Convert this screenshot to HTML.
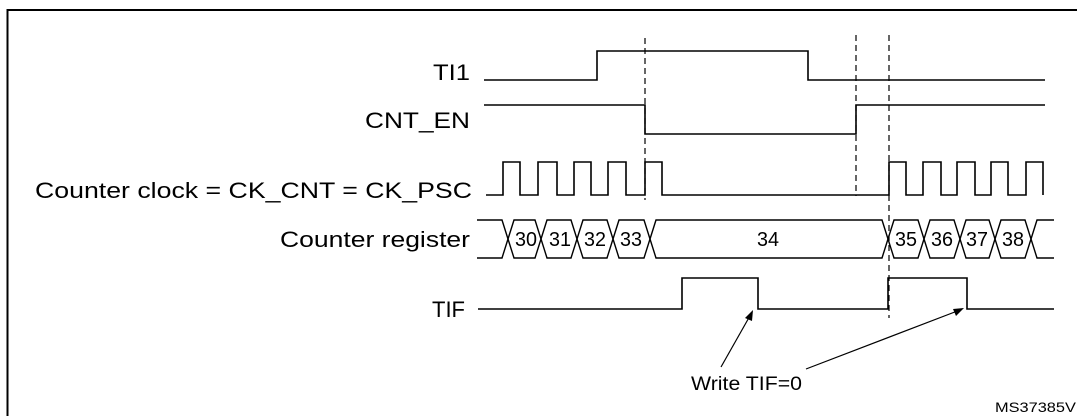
<!DOCTYPE html>
<html><head><style>
html,body{margin:0;padding:0;background:#fff;}
svg{display:block;}
text{font-family:"Liberation Sans",Arial,sans-serif;fill:#000;}
</style></head><body>
<svg width="1077" height="416" viewBox="0 0 1077 416" xmlns="http://www.w3.org/2000/svg">
<text x="545" y="-6" font-size="20" font-weight="bold" text-anchor="middle">Figure 100. Control circuit in trigger mode</text>
<path d="M7.5 416 V10 H1077" fill="none" stroke="#000" stroke-width="2"/>
<g font-size="22">
<text x="433" y="80" textLength="37" lengthAdjust="spacingAndGlyphs">TI1</text>
<text x="365" y="128" textLength="105" lengthAdjust="spacingAndGlyphs">CNT_EN</text>
<text x="35" y="198" textLength="437" lengthAdjust="spacingAndGlyphs">Counter clock = CK_CNT = CK_PSC</text>
<text x="280" y="247" textLength="190" lengthAdjust="spacingAndGlyphs">Counter register</text>
<text x="432" y="317" textLength="33" lengthAdjust="spacingAndGlyphs">TIF</text>
</g>
<g fill="none" stroke="#000" stroke-width="1.6">
<path d="M484 80 H597 V51 H808 V80 H1045"/>
<path d="M484 105 H645 V134 H856 V105 H1045"/>
<path d="M486 195 H503 V162 H520 V195 H538 V162 H557 V195 H574 V162 H591 V195 H608 V162 H626 V195 H645 V162 H662 V195 H889 V162 H906 V195 H923 V162 H941 V195 H957 V162 H975 V195 H991 V162 H1008 V195 H1026 V162 H1043 V195"/>
<path d="M478 309 H682 V278 H758 V309 H888 V278 H967 V309 H1054"/>
</g>
<g fill="none" stroke="#000" stroke-width="1.4">
<path d="M477 220 H502 L508 239 L502 258 H477"/>
<path d="M508 239 L514 220 H535 L541 239 L535 258 H514 Z"/>
<path d="M541 239 L547 220 H571 L577 239 L571 258 H547 Z"/>
<path d="M577 239 L583 220 H607 L613 239 L607 258 H583 Z"/>
<path d="M613 239 L619 220 H644 L650 239 L644 258 H619 Z"/>
<path d="M650 239 L656 220 H882 L888 239 L882 258 H656 Z"/>
<path d="M888 239 L894 220 H918 L924 239 L918 258 H894 Z"/>
<path d="M924 239 L930 220 H954 L960 239 L954 258 H930 Z"/>
<path d="M960 239 L966 220 H989 L995 239 L989 258 H966 Z"/>
<path d="M995 239 L1001 220 H1025 L1031 239 L1025 258 H1001 Z"/>
<path d="M1054 220 H1037 L1031 239 L1037 258 H1054"/>
</g>
<g font-size="20">
<text x="515" y="246" textLength="22" lengthAdjust="spacingAndGlyphs">30</text>
<text x="549" y="246" textLength="22" lengthAdjust="spacingAndGlyphs">31</text>
<text x="584" y="246" textLength="22" lengthAdjust="spacingAndGlyphs">32</text>
<text x="620" y="246" textLength="22" lengthAdjust="spacingAndGlyphs">33</text>
<text x="757" y="246" textLength="22" lengthAdjust="spacingAndGlyphs">34</text>
<text x="895" y="246" textLength="22" lengthAdjust="spacingAndGlyphs">35</text>
<text x="931" y="246" textLength="22" lengthAdjust="spacingAndGlyphs">36</text>
<text x="966" y="246" textLength="22" lengthAdjust="spacingAndGlyphs">37</text>
<text x="1002" y="246" textLength="22" lengthAdjust="spacingAndGlyphs">38</text>
</g>
<g stroke="#000" stroke-width="1.2" stroke-dasharray="6,4">
<line x1="645" y1="38" x2="645" y2="200"/>
<line x1="856" y1="35" x2="856" y2="196"/>
<line x1="889" y1="35" x2="889" y2="318"/>
</g>
<g stroke="#000" stroke-width="1.2">
<line x1="721" y1="367" x2="751" y2="314"/>
<line x1="806" y1="369" x2="960" y2="310"/>
</g>
<polygon points="753,310 745,318 752,321" fill="#000"/>
<polygon points="964,308 953,309 956,316" fill="#000"/>
<text x="691" y="390" font-size="19" textLength="111" lengthAdjust="spacingAndGlyphs">Write TIF=0</text>
<text x="995" y="412" font-size="14" textLength="90" lengthAdjust="spacingAndGlyphs">MS37385V1</text>
</svg>
</body></html>
